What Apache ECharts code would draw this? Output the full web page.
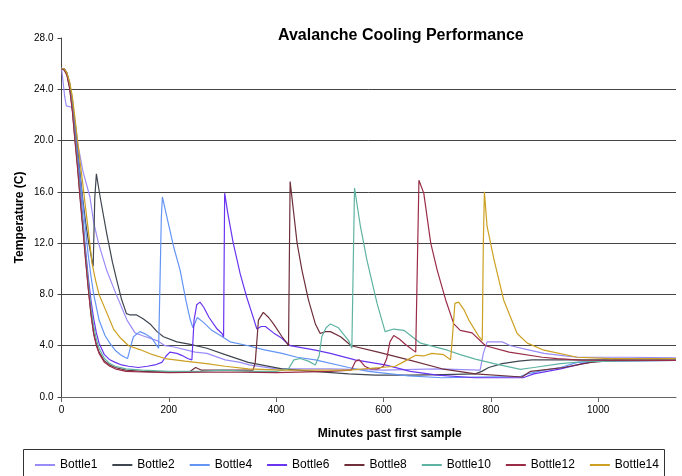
<!DOCTYPE html>
<html>
<head>
<meta charset="utf-8">
<script src="https://cdn.jsdelivr.net/npm/echarts@6/dist/echarts.min.js"></script>
<style>
html,body{margin:0;padding:0;background:#fff;}
#chart{width:682px;height:476px;}
</style>
</head>
<body>
<div id="chart"></div>
<script>
const seriesNames = ['Bottle1','Bottle2','Bottle4','Bottle6','Bottle8','Bottle10','Bottle12','Bottle14'];
const xTickValues = [0,200,400,600,800,1000];

const b1Time = [0,3,6,9,19,25,30,40,53,60,69,84,100,122,137,150,178,193,210,249,271,305,333,350,400,450,500,600,700,780,786,793,821,837,868,899,930,961,1000,1060,1145];
const b1Temp = [25.7,25.6,23.4,22.7,22.6,21.5,19.8,17.6,15.6,13.6,12.0,9.9,8.2,6.0,5.0,4.8,4.4,4.0,3.9,3.5,3.4,2.9,2.7,2.5,2.2,2.2,2.2,2.1,2.2,2.1,3.4,4.3,4.3,4.0,3.7,3.4,3.25,3.1,3.1,3.1,3.05];

const b2Time = [0,5,10,15,20,25,30,35,40,45,50,57,59,62,65,72,84,95,103,112,121,128,140,152,165,178,190,215,240,271,305,348,411,470,535,585,650,710,771,783,796,821,852,877,936,1000,1145];
const b2Temp = [25.6,25.6,25.3,24.5,23.2,21.3,19.4,17.3,15.3,13.6,12.2,10.6,10.2,15.5,17.4,15.6,12.8,10.5,9.1,7.6,6.5,6.4,6.4,6.1,5.7,5.1,4.7,4.3,4.1,3.8,3.3,2.7,2.2,2.0,1.8,1.7,1.7,1.75,1.8,2.0,2.3,2.6,2.8,2.9,2.9,2.9,2.9];

const b4Time = [0,5,10,15,20,25,30,35,40,45,50,55,60,70,81,90,100,110,118,123,128,134,146,157,168,176,181,184,186,188,196,209,221,232,240,245,253,265,280,296,314,348,376,411,439,473,535,572,647,709,771,855,868,900,930,961,1000,1060,1145];
const b4Temp = [25.6,25.6,25.3,24.5,23.0,21.2,19.0,17.0,15.0,13.0,11.0,9.4,8.0,6.0,4.8,4.2,3.65,3.3,3.1,3.0,3.8,4.7,5.1,4.9,4.6,4.1,3.8,3.7,14.0,15.6,14.1,11.7,9.9,7.5,6.0,5.4,6.2,5.8,5.2,4.8,4.3,4.0,3.7,3.4,3.1,2.9,2.3,2.0,1.65,1.5,1.55,1.6,1.8,2.1,2.3,2.7,2.8,2.85,2.85];

const b6Time = [0,5,10,15,20,25,30,35,40,45,50,55,60,65,70,80,90,100,112,125,143,160,174,187,195,202,215,224,235,243,247,252,258,265,275,290,299,302,304,310,320,333,345,355,364,372,380,395,410,426,473,501,547,603,650,700,770,860,880,930,970,1000,1145];
const b6Temp = [25.6,25.6,25.2,24.3,22.8,20.8,18.6,16.2,13.8,11.4,9.3,7.5,6.1,5.0,4.2,3.3,2.9,2.7,2.5,2.4,2.3,2.4,2.5,2.7,3.2,3.5,3.4,3.25,3.0,2.9,6.0,7.2,7.4,7.0,6.2,5.3,4.95,4.7,15.9,14.3,12.0,9.6,7.8,6.5,5.3,5.5,5.5,5.0,4.6,4.0,3.65,3.4,2.9,2.5,2.0,1.7,1.5,1.5,1.8,2.2,2.6,2.8,2.85];

const b8Time = [0,5,10,15,20,25,30,35,40,45,50,55,60,65,70,80,90,100,120,150,200,240,250,260,300,340,357,361,367,376,386,395,411,420,423,426,432,439,448,460,473,482,492,501,520,540,590,647,709,771,858,874,936,986,1030,1145];
const b8Temp = [25.6,25.5,25.2,24.2,22.5,20.2,18.0,15.5,13.2,10.8,8.5,6.5,5.0,4.1,3.5,2.8,2.5,2.3,2.1,2.0,1.95,2.0,2.3,2.1,2.1,2.1,2.1,2.7,6.0,6.6,6.2,5.7,4.7,4.2,4.0,16.8,14.6,12.0,9.9,7.6,5.7,4.95,5.1,5.1,4.7,4.0,3.5,2.9,2.2,1.8,1.56,2.0,2.3,2.7,2.85,2.85];

const b10Time = [0,5,10,15,20,25,30,35,40,45,50,55,60,65,70,80,90,100,120,150,200,260,300,350,400,423,433,445,460,473,480,485,493,501,516,535,541,544,546,557,569,588,603,619,638,669,719,743,771,806,855,880,930,970,1145];
const b10Temp = [25.6,25.5,25.2,24.3,22.7,20.5,18.3,15.8,13.5,11.1,8.9,7.0,5.5,4.5,3.8,3.0,2.6,2.4,2.2,2.1,2.0,2.0,2.1,2.0,2.0,2.2,2.9,3.0,2.8,2.5,3.2,4.7,5.4,5.7,5.4,4.4,3.8,3.8,16.3,13.3,10.7,7.3,5.1,5.3,5.2,4.2,3.65,3.3,2.95,2.6,2.15,2.3,2.6,2.75,2.85];

const b12Time = [0,5,10,15,20,25,30,35,40,45,50,55,60,65,70,80,90,100,120,150,200,300,400,500,540,548,555,565,575,590,600,606,612,619,630,641,660,663,666,675,688,700,716,731,743,765,790,834,896,924,967,1145];
const b12Temp = [25.6,25.5,25.1,24.1,22.4,20.0,17.8,15.3,13.0,10.6,8.4,6.4,4.9,4.0,3.4,2.7,2.4,2.2,2.0,1.95,1.9,1.95,1.9,2.0,2.1,2.8,2.9,2.4,2.2,2.2,2.4,3.0,4.3,4.8,4.5,4.1,3.5,3.6,16.9,15.9,12.0,9.9,7.55,5.7,5.2,5.0,4.0,3.5,3.1,3.0,2.87,2.85];

const b14Time = [0,5,10,15,20,25,30,35,40,45,50,57,64,70,84,97,110,125,146,170,193,230,270,305,348,411,473,535,594,622,640,660,675,690,712,725,729,733,740,750,759,778,784,786,788,793,806,824,849,868,899,961,1023,1145];
const b14Temp = [25.6,25.6,25.3,24.6,23.5,21.8,20.0,18.2,16.5,14.7,13.0,10.4,9.0,8.0,6.6,5.3,4.6,4.0,3.7,3.3,3.0,2.8,2.6,2.4,2.2,2.1,2.1,2.1,2.3,2.4,2.8,3.25,3.2,3.4,3.3,2.9,5.0,7.3,7.4,6.8,6.0,4.7,4.4,12.0,16.0,13.3,10.7,7.55,4.95,4.2,3.65,3.1,3.0,3.0];

const times = [b1Time,b2Time,b4Time,b6Time,b8Time,b10Time,b12Time,b14Time];
const temps = [b1Temp,b2Temp,b4Temp,b6Temp,b8Temp,b10Temp,b12Temp,b14Temp];
const colors = ['#9A8CF8','#3F4650','#6495F5','#6A35F0','#6E2E3A','#5FB3A3','#9A2C48','#CCA020'];

const FONT = 'Liberation Sans, Arial, sans-serif';

const chart = echarts.init(document.getElementById('chart'), null, {renderer:'canvas'});
chart.setOption({
  animation: false,
  backgroundColor: '#fff',
  color: colors,
  title: {
    text: 'Avalanche Cooling Performance',
    left: 278, top: 28, padding: 0,
    textStyle: {fontFamily: FONT, fontSize: 16, fontWeight: 'bold', color: '#000'}
  },
  graphic: [{
    type: 'rect',
    shape: {x: 23.5, y: 449.5, width: 641, height: 40},
    style: {fill: 'none', stroke: '#333', lineWidth: 1},
    silent: true
  }],
  legend: {
    left: 35, top: 459, padding: 0,
    itemWidth: 20, itemHeight: 2, itemGap: 15,
    icon: 'rect',
    data: seriesNames,
    textStyle: {fontFamily: FONT, fontSize: 12, color: '#000'}
  },
  grid: {left: 61.5, right: 6, top: 38, bottom: 79},
  xAxis: {
    type: 'value', min: 0, max: 1145, interval: 200,
    name: 'Minutes past first sample',
    nameLocation: 'middle', nameGap: 31, nameMoveOverlap: false,
    nameTextStyle: {fontFamily: FONT, fontSize: 12, fontWeight: 'bold', color: '#000', padding: [0,0,0,42]},
    axisLine: {show: true, lineStyle: {color: '#666', width: 1}},
    axisTick: {show: true, length: 5, customValues: xTickValues, lineStyle: {color: '#666'}},
    axisLabel: {customValues: xTickValues, fontFamily: FONT, fontSize: 10, color: '#000', margin: 8, formatter: v => String(v)},
    splitLine: {show: false}
  },
  yAxis: {
    type: 'value', min: 0, max: 28, interval: 4,
    name: 'Temperature (C)',
    nameLocation: 'middle', nameGap: 36, nameMoveOverlap: false,
    nameTextStyle: {fontFamily: FONT, fontSize: 12, fontWeight: 'bold', color: '#000'},
    axisLine: {show: true, lineStyle: {color: '#444', width: 1}},
    axisTick: {show: true, length: 4, lineStyle: {color: '#444'}},
    axisLabel: {fontFamily: FONT, fontSize: 10, color: '#000', margin: 8, formatter: v => v.toFixed(1)},
    splitLine: {show: true, lineStyle: {color: ['#444','#444','#444','#444','#444','#444','#444','rgba(0,0,0,0)'], width: 1}}
  },
  series: seriesNames.map((n, i) => ({
    name: n,
    type: 'line',
    showSymbol: false,
    symbol: 'none',
    data: times[i].map((t, j) => [t, temps[i][j]]),
    lineStyle: {width: 1.2, color: colors[i]},
    itemStyle: {color: colors[i]}
  }))
});
</script>
</body>
</html>
